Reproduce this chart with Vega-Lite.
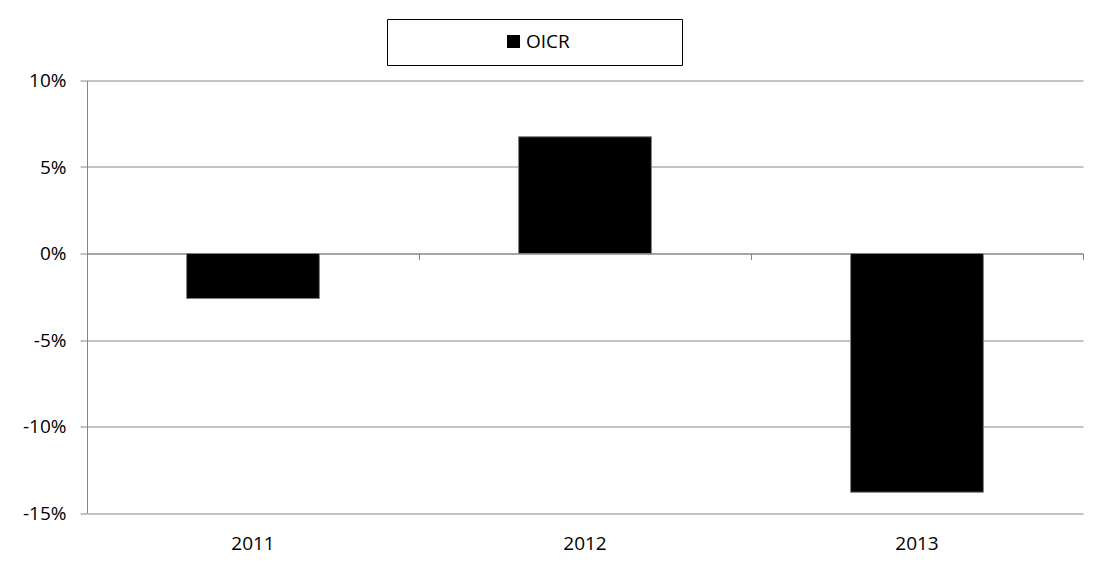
{
  "$schema": "https://vega.github.io/schema/vega-lite/v6.json",
  "width": 996,
  "height": 432.5,
  "autosize": "none",
  "padding": {"left": 87, "top": 80.5, "right": 29, "bottom": 54},
  "background": "white",
  "config": {
    "view": {"stroke": null},
    "font": "Open Sans"
  },
  "data": {
    "values": [
      {"year": "2011", "OICR": -2.6},
      {"year": "2012", "OICR": 6.75},
      {"year": "2013", "OICR": -13.8}
    ]
  },
  "layer": [
    {
      "mark": {"type": "bar", "opacity": 0},
      "encoding": {
        "x": {
          "field": "year",
          "type": "nominal",
          "scale": {"paddingInner": 0.6, "paddingOuter": 0.3},
          "axis": {
            "orient": "bottom",
            "offset": -259.5,
            "labels": false,
            "title": null,
            "domain": true,
            "domainColor": "#868686",
            "domainWidth": 1,
            "ticks": true,
            "tickOffset": 166,
            "tickSize": 6,
            "tickColor": "#868686",
            "grid": false
          }
        },
        "y": {
          "field": "OICR",
          "type": "quantitative",
          "scale": {"domain": [-15, 10], "nice": false, "zero": false},
          "axis": {
            "values": [-15, -10, -5, 0, 5, 10],
            "labelExpr": "datum.value + '%'",
            "title": null,
            "grid": true,
            "gridColor": "#868686",
            "gridWidth": 1,
            "domainColor": "#868686",
            "tickColor": "#868686",
            "tickSize": 7,
            "labelPadding": 14,
            "labelFontSize": 19,
            "labelColor": "#000000",
            "labelFont": "Open Sans"
          }
        }
      }
    },
    {
      "mark": {"type": "bar", "stroke": "#808080", "strokeWidth": 1},
      "encoding": {
        "x": {
          "field": "year",
          "type": "nominal",
          "scale": {"paddingInner": 0.6, "paddingOuter": 0.3},
          "axis": {
            "orient": "bottom",
            "title": null,
            "domain": false,
            "ticks": false,
            "grid": false,
            "labelAngle": 0,
            "labelPadding": 21,
            "labelFontSize": 19,
            "labelColor": "#000000",
            "labelFont": "Open Sans"
          }
        },
        "y": {
          "field": "OICR",
          "type": "quantitative"
        },
        "color": {
          "datum": "OICR",
          "type": "nominal",
          "scale": {"range": ["#000000"]},
          "legend": {
            "orient": "none",
            "legendX": 300,
            "legendY": -61.5,
            "title": null,
            "strokeColor": "#000000",
            "fillColor": "#ffffff",
            "padding": 13,
            "symbolType": "square",
            "symbolSize": 169,
            "symbolOffset": 104,
            "symbolStrokeWidth": 0,
            "labelOffset": 3,
            "labelFontSize": 19,
            "labelFont": "Open Sans",
            "labelColor": "#000000",
            "labelExpr": "datum.label + '\u00a0\u00a0\u00a0\u00a0\u00a0\u00a0\u00a0\u00a0\u00a0\u00a0\u00a0\u00a0\u00a0\u00a0\u00a0\u00a0\u00a0\u00a0\u00a0\u00a0\u200b'"
          }
        }
      }
    }
  ],
  "resolve": {"axis": {"x": "independent"}}
}
